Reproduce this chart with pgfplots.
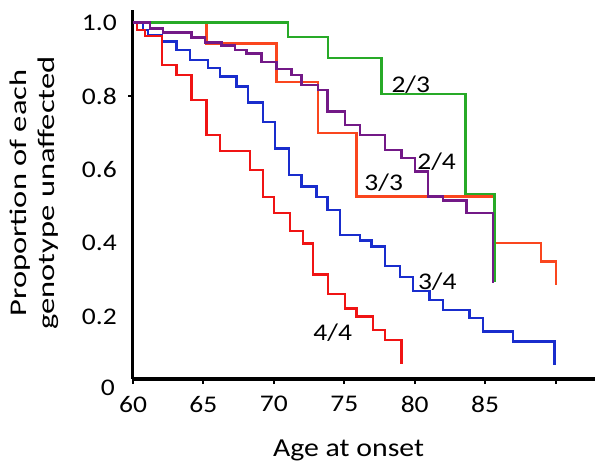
\documentclass[border=0pt]{standalone}
\usepackage{fontspec}
\setmainfont{Carlito}[FakeStretch=1.15]
\newfontfamily\ylabfont{Carlito}[FakeStretch=1.36]
\usepackage{pgfplots}
\pgfplotsset{compat=1.18}
\definecolor{cgreen}{RGB}{40,170,40}
\definecolor{corange}{RGB}{250,70,30}
\definecolor{cpurple}{RGB}{115,25,135}
\definecolor{cblue}{RGB}{25,45,205}
\definecolor{cred}{RGB}{240,20,20}
\begin{document}
\fontsize{24}{28}\selectfont
\begin{tikzpicture}
\begin{axis}[
  scale only axis, width=462bp, height=369bp,
  xmin=60, xmax=92.8, ymin=0.031, ymax=1.034,
  axis x line*=bottom, axis y line*=left,
  axis line style={line width=3bp, black},
  clip=false,
  xtick={60,65,70,75,80,85,90},
  xticklabels={60,65,70,75,80,85,{}},
  ytick={0.2,0.4,0.6,0.8,1.0},
  yticklabels={0.2,0.4,0.6,0.8,1.0},
  tick align=outside, major tick length=5bp,
  xtick style={line width=2bp, black},
  ytick style={draw=none},
  /pgf/number format/assume math mode=true,
  tick label style={font=\fontsize{24}{28}\selectfont, inner sep=0pt},
  xticklabel style={yshift=-12bp},
  yticklabel style={xshift=-11bp},
]
\addplot[corange, line width=2.4bp, const plot] coordinates {(60,1.0) (65.23,0.943) (70.19,0.839) (73.14,0.699) (75.86,0.527) (85.67,0.400) (88.98,0.350) (90.05,0.287)};
\addplot[cblue, line width=2.4bp, const plot] coordinates {(60,1.0) (60.71,0.980) (61.06,0.966) (62.04,0.948) (63.1,0.925) (64.04,0.898) (65.34,0.876) (66.17,0.853) (67.35,0.826) (68.18,0.783) (69.24,0.730) (70.07,0.658) (71.06,0.586) (71.96,0.554) (73.03,0.526) (73.81,0.490) (74.68,0.423) (76.1,0.407) (76.93,0.391) (77.87,0.338) (78.94,0.309) (79.88,0.270) (81.06,0.246) (82.0,0.219) (83.9,0.196) (84.84,0.160) (86.97,0.133) (89.93,0.069)};
\addplot[cred, line width=2.4bp, const plot] coordinates {(60,1.0) (60.3,0.980) (60.85,0.964) (62.04,0.885) (63.1,0.857) (64.16,0.789) (65.23,0.694) (66.17,0.651) (68.3,0.599) (69.24,0.526) (70.02,0.482) (71.13,0.434) (72.08,0.399) (72.79,0.315) (73.85,0.262) (75.04,0.223) (75.87,0.201) (77.04,0.164) (77.87,0.137) (79.06,0.071)};
\addplot[cgreen, line width=2.4bp, const plot] coordinates {(60,1.0) (71.0,0.961) (73.83,0.904) (77.64,0.806) (83.62,0.534) (85.67,0.295)};
\addplot[cpurple, line width=2.4bp, const plot] coordinates {(60,1.0) (61.21,0.984) (62.13,0.973) (64.16,0.959) (65.11,0.946) (66.29,0.937) (67.23,0.925) (68.06,0.916) (69.13,0.893) (70.19,0.874) (71.26,0.857) (71.96,0.830) (73.12,0.817) (73.8,0.758) (75.04,0.721) (76.1,0.694) (77.87,0.654) (79.06,0.631) (80.0,0.595) (80.94,0.527) (82.0,0.516) (83.67,0.483) (85.55,0.291)};
\draw[line width=2bp] (axis cs:60,0.8) -- ([xshift=-5bp]axis cs:60,0.8);
\node[inner sep=0pt] at (axis cs:79.72,0.830) {2/3};
\node[inner sep=0pt] at (axis cs:81.56,0.622) {2/4};
\node[inner sep=0pt] at (axis cs:77.8,0.564) {3/3};
\node[inner sep=0pt] at (axis cs:81.6,0.296) {3/4};
\node[inner sep=0pt] at (axis cs:74.18,0.157) {4/4};
\node[inner sep=0pt, anchor=east] at ([xshift=-18bp]axis cs:60,0.007) {0};
\end{axis}
\node[anchor=base, inner sep=0pt, font=\fontsize{26}{30}\selectfont] at (215.6bp,-77bp) {Age at onset};
\node[rotate=90, align=center, inner sep=0pt, font=\fontsize{24}{28}\ylabfont] at (-98.5bp,186bp) {Proportion of each\\genotype unaffected};
\pgfresetboundingbox
\path[use as bounding box] (-133bp,-83bp) rectangle (468bp,379bp);
\end{tikzpicture}
\end{document}
